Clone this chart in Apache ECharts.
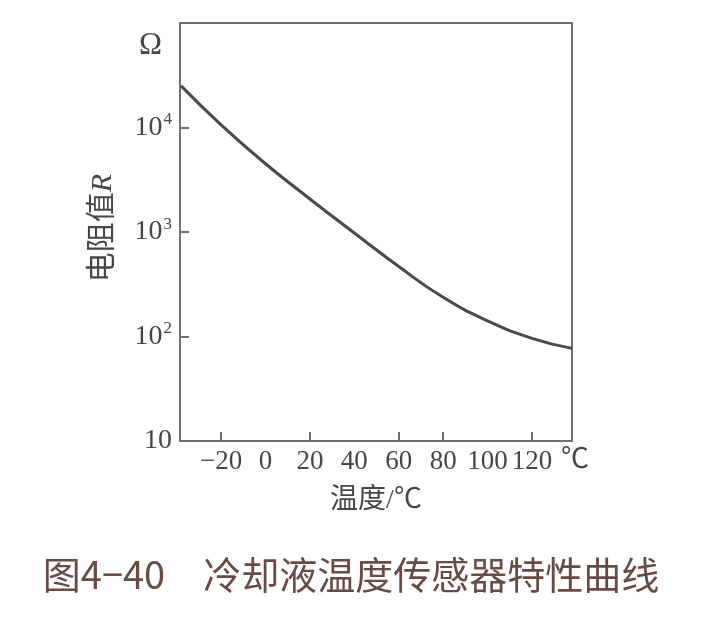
<!DOCTYPE html>
<html><head><meta charset="utf-8">
<script src="https://cdn.jsdelivr.net/npm/echarts@6/dist/echarts.min.js"></script>
<style>html,body{margin:0;padding:0;background:#fff}#c{width:702px;height:619px}</style>
</head><body><div id="c"></div>
<script>
// Data
const temps = [-38, -20, 0, 20, 40, 60, 80, 100, 120, 138];
const resistance = [25000, 10600, 4500, 2070, 977, 467, 237, 141, 96, 77];
const xLabelValues = [-20, 0, 20, 40, 60, 80, 100, 120];
const xTickValues = [-20, 20, 60, 80, 120];
const yTickValues = [10, 100, 1000, 10000, 100000];
const yLabelValues = [10, 100, 1000, 10000];
const yLabelExponents = {100: '2', 1000: '3', 10000: '4'};

const serif = '"Liberation Serif","Noto Sans CJK SC",serif';
const axisColor = '#6f6f6f';
const textColor = '#474747';

const chart = echarts.init(document.getElementById('c'));
chart.setOption({
  backgroundColor: '#ffffff',
  animation: false,
  title: {
    text: '图4−40　冷却液温度传感器特性曲线',
    left: 'center', top: 551,
    textStyle: {fontFamily: '"Noto Sans CJK SC",sans-serif', fontSize: 38, fontWeight: 'normal', color: '#6a4b44'}
  },
  grid: {left: 180, top: 23, width: 392, height: 418, show: true, borderColor: axisColor, borderWidth: 2, backgroundColor: 'transparent'},
  xAxis: {
    type: 'value', min: -38.5, max: 138,
    name: '温度/℃', nameLocation: 'middle', nameGap: 46,
    nameTextStyle: {fontFamily: serif, fontSize: 28, color: textColor},
    axisLine: {show: true, onZero: false, lineStyle: {color: axisColor, width: 2}},
    splitLine: {show: false},
    axisTick: {show: true, inside: true, length: 9, customValues: xTickValues, lineStyle: {color: axisColor, width: 2}},
    axisLabel: {customValues: xLabelValues, margin: 7, fontFamily: serif, fontSize: 27, color: textColor,
      formatter: v => String(v).replace('-', '−')}
  },
  yAxis: {
    type: 'log', logBase: 10, min: 10, max: 100000,
    axisLine: {show: true, onZero: false, lineStyle: {color: axisColor, width: 2}},
    splitLine: {show: false},
    minorTick: {show: false},
    axisTick: {show: true, inside: true, length: 9, customValues: yTickValues, lineStyle: {color: axisColor, width: 2}},
    axisLabel: {customValues: yLabelValues, margin: 8, fontFamily: serif, fontSize: 28, color: textColor,
      formatter: v => {
        const e = yLabelExponents[Math.round(v)];
        return e ? '{b|10}{e|' + e + '}' : '{b|10}';
      },
      rich: {
        b: {fontFamily: serif, fontSize: 28, color: textColor, lineHeight: 32},
        e: {fontFamily: serif, fontSize: 17, color: textColor, verticalAlign: 'top', lineHeight: 17, padding: [0, 0, 13, 1]}
      }
    }
  },
  graphic: [
    {type: 'text', left: 139, top: 30, style: {text: 'Ω', fontFamily: serif, fontSize: 31, fill: textColor}},
    {type: 'text', x: 561, y: 447, style: {text: '℃', fontFamily: serif, fontSize: 28, fill: textColor}},
    {type: 'text', x: 103, y: 228, rotation: Math.PI / 2,
      style: {text: '电阻值{r|R}', align: 'center', verticalAlign: 'middle',
        fontFamily: serif, fontSize: 30, fill: textColor,
        rich: {r: {fontFamily: serif, fontStyle: 'italic', fontSize: 30, fill: textColor}}}}
  ],
  series: [{
    type: 'line', smooth: true, showSymbol: false,
    data: temps.map((t, i) => [t, resistance[i]]),
    lineStyle: {color: '#4a4a4a', width: 3}
  }]
});
</script></body></html>
